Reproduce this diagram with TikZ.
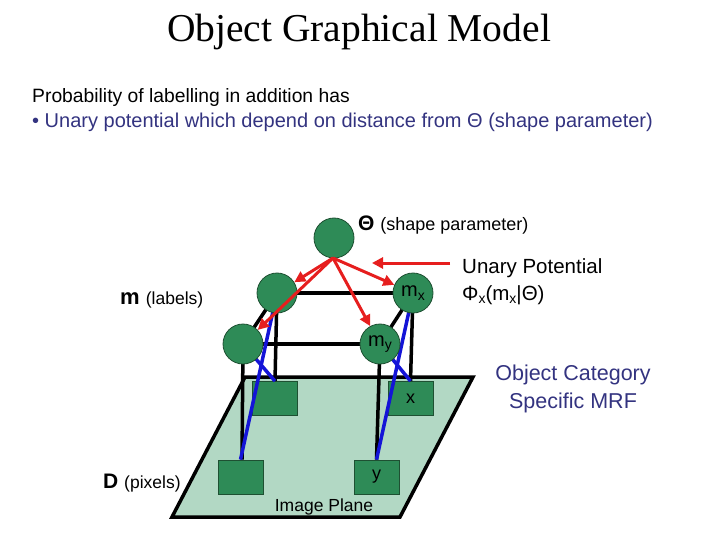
\documentclass[tikz,border=0pt]{standalone}
\usepackage{fontspec}
\setmainfont{Liberation Sans}
\newfontfamily\titlefont{Liberation Serif}
\usetikzlibrary{arrows.meta}
\definecolor{nodegreen}{RGB}{46,139,87}
\definecolor{nodeborder}{RGB}{30,80,50}
\definecolor{planefill}{RGB}{178,216,196}
\definecolor{arrowred}{RGB}{230,30,30}
\definecolor{linkblue}{RGB}{20,20,215}
\definecolor{textblue}{RGB}{51,51,128}
\newcommand{\mysub}[1]{\raisebox{-0.35ex}{\fontsize{14}{14}\selectfont #1}}
\tikzset{
  labelnode/.style={circle, fill=nodegreen, draw=nodeborder, line width=0.8pt, minimum size=40pt, inner sep=0pt, font=\fontsize{20}{22}\selectfont},
  pixelbox/.style={rectangle, fill=nodegreen, draw=nodeborder, line width=0.8pt, minimum width=45pt, minimum height=34pt, inner sep=0pt, font=\fontsize{18}{20}\selectfont},
  gridline/.style={line width=3.5pt, black},
  crossline/.style={line width=3.5pt, linkblue},
  potarrow/.style={line width=3pt, arrowred, -{Triangle[length=11pt,width=11pt]}},
  plane/.style={fill=planefill, draw=black, line width=3.5pt, line join=miter},
  plaintext/.style={inner sep=0pt, anchor=base west}
}
\begin{document}
\begin{tikzpicture}[x=1pt,y=-1pt]
\useasboundingbox (0,0) rectangle (720,540);
% title and header
\node[anchor=base, inner sep=0pt] (title) at (359,42) {\titlefont\fontsize{39.5}{48}\selectfont Object Graphical Model};
\node[plaintext] (h1) at (32,102.5) {\fontsize{19.3}{22}\selectfont Probability of labelling in addition has};
\node[plaintext, text=textblue] (h2) at (32,127.5) {\fontsize{20}{22}\selectfont • Unary potential which depend on distance from Θ (shape parameter)};
% image plane
\draw[plane] (245,377) -- (473,377) -- (400,517) -- (172,517) -- cycle;
\node[inner sep=0pt, anchor=base] (iplane) at (324,511) {\fontsize{17.5}{20}\selectfont Image Plane};
% pixel boxes
\node[pixelbox] (pTL) at (275,398.5) {};
\node[pixelbox] (pTR) at (410.5,398.5) {x};
\node[pixelbox] (pBL) at (240.5,477) {};
\node[pixelbox] (pBR) at (376.5,477) {y};
% label node centres (for lines)
\coordinate (c1) at (277,293);
\coordinate (c2) at (243,344);
\coordinate (cx) at (413,293);
\coordinate (cy) at (380,344);
% black grid lines
\draw[gridline] (c1) -- (cx);
\draw[gridline] (c2) -- (cy);
\draw[gridline] (c1) -- (c2);
\draw[gridline] (cx) -- (cy);
\draw[gridline] (c2) -- (pBL.north -| 242,0);
\draw[gridline] (c1) -- (pTL.north);
\draw[gridline] (cy) -- (pBR.north);
\draw[gridline] (cx) -- (pTR.north);
% blue cross lines
\draw[crossline] (c1) -- (pBL.north);
\draw[crossline] (c2) -- (pTL.north);
\draw[crossline] (cx) -- (pBR.north);
\draw[crossline] (cy) -- (pTR.north);
% circles
\node[labelnode] (th) at (334,238) {};
\node[labelnode] (m1) at (c1) {};
\node[labelnode] (m2) at (c2) {};
\node[labelnode] (mx) at (cx) {m\mysub{x}};
\node[labelnode] (my) at (cy) {m\mysub{y}};
% red potential arrows
\coordinate (ts) at (333,258);
\draw[potarrow] (ts) -- (m1);
\draw[potarrow] (ts) -- (m2);
\draw[potarrow] (ts) -- (my);
\draw[potarrow] (ts) -- (mx);
\coordinate (ua) at (450,263);
\coordinate (ub) at (372,263);
\draw[potarrow] (ua) -- (ub);
% labels
\node[plaintext] (thl) at (358,230) {\fontsize{21}{24}\selectfont\bfseries Θ \fontsize{18}{20}\selectfont\mdseries (shape parameter)};
\node[plaintext] (ml) at (120,304) {\fontsize{22}{24}\selectfont\bfseries m \fontsize{17.5}{20}\selectfont\mdseries (labels)};
\node[plaintext] (dl) at (103,488) {\fontsize{21}{24}\selectfont\bfseries D \fontsize{17.5}{20}\selectfont\mdseries (pixels)};
\node[plaintext] (up1) at (462,273) {\fontsize{20.5}{22}\selectfont Unary Potential};
\node[plaintext] (up2) at (462,300) {\fontsize{20.5}{22}\selectfont Φ\mysub{x}(m\mysub{x}|Θ)};
\node[align=center, text=textblue, inner sep=0pt, font=\fontsize{21.5}{28}\selectfont] (oc) at (573,389) {Object Category\\Specific MRF};
\end{tikzpicture}
\end{document}
